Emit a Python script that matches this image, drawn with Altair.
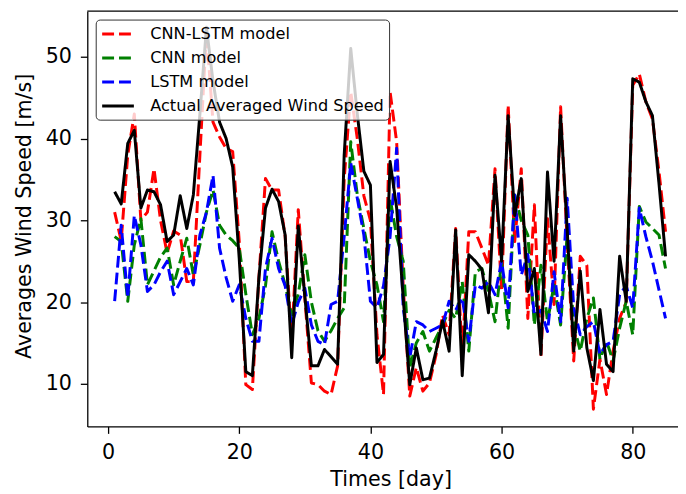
import altair as alt
import pandas as pd

days = list(range(1, 86))

actual = [33.5, 32, 39.4, 41, 31.5, 33.7, 33.5, 31.9, 27.4, 28.2,
          33, 29, 33.1, 43, 53.6, 47, 42, 40, 36.5, 25.3,
          11.5, 11, 23, 31.5, 33.8, 32.3, 28.2, 13.2, 29.3, 20.7,
          12.2, 12.2, 14.2, 13.3, 12.4, 38, 51, 43, 36, 34.3,
          12.6, 13.6, 37.2, 31.5, 20.5, 9.9, 14.4, 10.5, 10.7, 14,
          17.7, 14, 28.8, 11, 25.8, 25, 24, 18.7, 35.5, 25,
          42.8, 30.6, 35.1, 21.3, 24.1, 13.6, 35.9, 25, 42.8, 28.9,
          14, 23.8, 14.4, 10.4, 19.1, 12.4, 11.5, 25.6, 20.1, 47.3,
          46.9, 44.5, 42.8, 34.5, 25.6]

cnn_lstm = [31, 27.5, 38, 43, 30, 31, 36.3, 30, 26, 28.7,
            28.2, 22.5, 22.5, 38, 53, 42, 40.2, 38.8, 38.4, 27.4,
            9.9, 9.3, 23, 35.1, 33.7, 33.7, 28, 15.2, 31.3, 20.5,
            10.1, 9.9, 9.1, 8.7, 12.2, 35, 45.7, 40, 33, 30,
            16, 8.7, 45.7, 39.6, 22, 8.5, 12, 9.1, 10.1, 13.5,
            18.4, 16, 29, 13.6, 28.6, 28.6, 26.6, 24.5, 36.3, 21.3,
            44.1, 27.4, 36.3, 18, 31.9, 13.4, 30.2, 19.7, 43.9, 27.4,
            12.8, 25.6, 24.5, 6.9, 13, 8.7, 14, 18, 20, 46.5,
            47.9, 44.5, 42.4, 36, 28.6]

cnn = [28, 27.4, 20.1, 27, 30.2, 22.1, 23.8, 25.5, 26.6, 22.1,
       25, 27.8, 23.3, 27, 31, 33.7, 29.4, 28.2, 27.5, 26.6,
       21, 16, 18, 22, 28.6, 25, 22.1, 18.4, 21, 25.8,
       20, 16.5, 15.2, 16.5, 18, 19.3, 39.6, 33.1, 29, 25,
       22.1, 17.6, 32.7, 28, 25, 12, 15, 16.4, 14, 15.6,
       17.2, 19, 18, 22.5, 14, 23.7, 24.1, 21.3, 17.6, 25,
       16.8, 33.1, 30, 28.2, 17.2, 24.5, 17.6, 22.1, 17.2, 28.2,
       17.2, 14, 18, 20.5, 13, 15.2, 12.8, 16.8, 20.1, 16,
       31.7, 29.8, 29, 28.2, 24.1]

lstm = [20.1, 29.4, 20.5, 30.6, 27, 21.3, 22.1, 23.7, 25, 20.9,
        22.5, 24.1, 22.1, 28.2, 31, 35.5, 26.6, 23, 20.1, 22.1,
        18, 15.2, 15.2, 24.1, 27.8, 24.1, 22, 17.2, 20, 21.7,
        17.2, 15.2, 14.8, 19.7, 20.1, 28, 37, 32.7, 28.2, 20.1,
        19.3, 22, 28, 38.8, 19.3, 13.2, 17.6, 17.2, 16.4, 16.8,
        17.2, 20.1, 19, 20.5, 15.2, 22.1, 21.7, 22.5, 20.9, 25,
        19.3, 33.1, 23.3, 25.8, 18.4, 19, 16.4, 23.7, 17.6, 32.7,
        19.3, 16, 17, 17.6, 13.6, 14.8, 15.2, 20.9, 22, 19.3,
        31.5, 28, 25, 21.5, 18]

series_names = ["CNN-LSTM model", "CNN model", "LSTM model", "Actual Averaged Wind Speed"]
series_colors = ["red", "green", "blue", "black"]
series_dashes = [[12, 5], [12, 5], [12, 5], [1, 0]]
series_values = [cnn_lstm, cnn, lstm, actual]

x_ticks = [0, 20, 40, 60, 80]
y_ticks = [10, 20, 30, 40, 50]

rows = []
for name, vals in zip(series_names, series_values):
    for d, v in zip(days, vals):
        rows.append({"day": d, "speed": v, "series": name})
df = pd.DataFrame(rows)

W, H = 596, 419
FONT = "DejaVu Sans"

x_enc = alt.X("day:Q",
              scale=alt.Scale(domain=[-3.17, 86.9], nice=False, zero=False),
              axis=alt.Axis(values=x_ticks, title="Times [day]", labelBaseline="alphabetic",
                            labelPadding=25, titleX=306, titleY=60, titleBaseline="alphabetic",
                            titleAlign="center"))
y_enc = alt.Y("speed:Q",
              scale=alt.Scale(domain=[4.79, 55.58], nice=False, zero=False),
              axis=alt.Axis(values=y_ticks, title="Averages Wind Speed [m/s]", labelPadding=9,
                            titleX=-57, titleY=206.5, titleBaseline="alphabetic",
                            titleAlign="center", titleAngle=270))

legend = alt.Legend(title=None, orient="none", legendX=8.5, legendY=8.5,
                    symbolType="M-1,0H3", symbolSize=256, symbolStrokeWidth=3,
                    labelFont=FONT, labelFontSize=16.3, labelColor="black",
                    labelOffset=31, rowPadding=6.2, padding=5, labelLimit=500,
                    fillColor="rgba(255,255,255,0.8)", strokeColor="#333333",
                    cornerRadius=4)

color_enc = alt.Color("series:N", scale=alt.Scale(domain=series_names, range=series_colors),
                      legend=legend)
dash_enc = alt.StrokeDash("series:N", scale=alt.Scale(domain=series_names, range=series_dashes),
                          legend=legend)

layers = []
for name in series_names:
    layers.append(
        alt.Chart(df).transform_filter(alt.datum.series == name)
        .mark_line(strokeWidth=3, strokeJoin="round", clip=True)
        .encode(x=x_enc, y=y_enc, color=color_enc, strokeDash=dash_enc)
    )

top_spine = alt.Chart(pd.DataFrame({"a": [0]})).mark_rule(color="black", strokeWidth=1.3).encode(
    x=alt.value(0), x2=alt.value(W), y=alt.value(0))

chart = alt.layer(*layers, top_spine).properties(
    width=W, height=H,
    autosize=alt.AutoSizeParams(type="none"),
    padding={"left": 80, "top": 1, "right": 0, "bottom": 65},
).configure_view(stroke=None).configure_axis(
    grid=False, domainColor="black", domainWidth=1.3, tickColor="black", tickWidth=1.3,
    tickSize=7, labelFont=FONT, labelFontSize=20.8, labelColor="black",
    titleFont=FONT, titleFontSize=20.8, titleFontWeight="normal", titleColor="black",
)

chart.save("out.html", embed_options={"renderer": "svg", "actions": False})
